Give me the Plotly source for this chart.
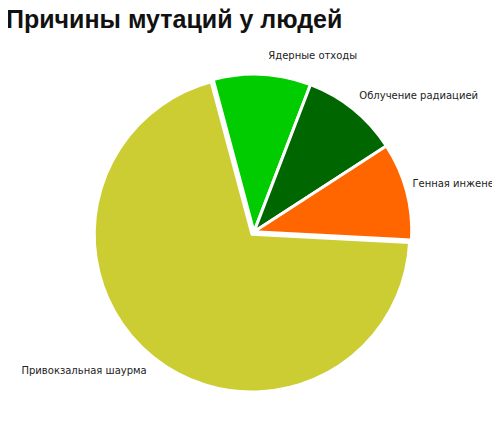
import plotly.graph_objects as go

causes = ["Ядерные отходы", "Облучение радиацией", "Генная инженерия", "Привокзальная шаурма"]
shares = [10, 10, 10, 70]
colors = ["#00cc00", "#006600", "#ff6600", "#cccc33"]
pulls = [0, 0, 0, 0.02]
# extra blank line pushes the outside labels a little further from the pie
templates = ["%{label}<br> ", "%{label}<br> ", "%{label}<br> ", " <br>%{label}"]

fig = go.Figure(go.Pie(
    labels=causes,
    values=shares,
    sort=False,
    direction="clockwise",
    rotation=-15,
    pull=pulls,
    marker=dict(colors=colors, line=dict(color="white", width=3)),
    texttemplate=templates,
    textposition="outside",
    textfont=dict(family="DejaVu Sans", size=10, color="#222222"),
    hoverinfo="label+percent",
    domain=dict(x=[0.17, 0.814], y=[0.101, 0.853]),
    automargin=False,
    showlegend=False,
))

fig.add_annotation(
    text="<b>Причины мутаций у людей</b>",
    xref="paper", yref="paper", x=-0.004, y=1.0,
    xshift=-2, yshift=5,
    xanchor="left", yanchor="top", showarrow=False,
    font=dict(family="Liberation Sans", size=25, color="#111111"),
)

fig.update_layout(
    width=500,
    height=428,
    margin=dict(l=0, r=0, t=0, b=0),
    paper_bgcolor="white",
    plot_bgcolor="white",
)

fig.write_html("out.html")
